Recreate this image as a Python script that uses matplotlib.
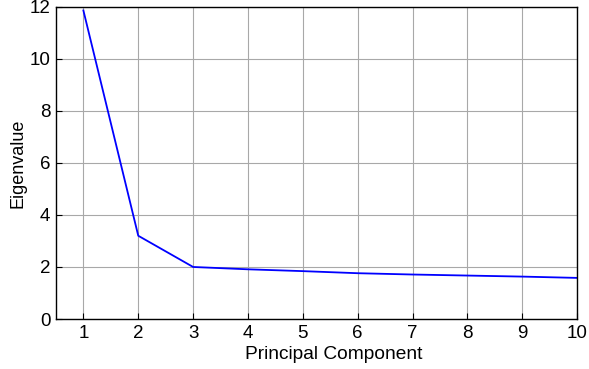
import matplotlib
matplotlib.use("Agg")
import matplotlib.pyplot as plt

plt.rcParams['font.family'] = ['Liberation Sans', 'DejaVu Sans']

# scree plot values
components = [1, 2, 3, 4, 5, 6, 7, 8, 9, 10]
eigenvalues = [11.86, 3.2, 2.0, 1.91, 1.84, 1.76, 1.71, 1.67, 1.63, 1.58]

fig = plt.figure(figsize=(5.89, 3.69), dpi=100)
ax = fig.add_axes([0.095, 0.1355, 0.885, 0.846])

ax.plot(components, eigenvalues, color='#0000ff', linewidth=1.3)

ax.set_xlim(0.5, 10)
ax.set_ylim(0, 12)
ax.set_xticks(components)
ax.set_yticks([0, 2, 4, 6, 8, 10, 12])
ax.grid(True, color='#a8a8a8', linewidth=0.8)
ax.set_axisbelow(True)
ax.tick_params(direction='in', labelsize=13.5, length=4, color='black', pad=4)
for s in ax.spines.values():
    s.set_linewidth(1.0)

ax.set_xlabel("Principal Component", fontsize=13.8, labelpad=1)
ax.xaxis.set_label_coords(0.533, -0.085)
ax.set_ylabel("Eigenvalue", fontsize=13, labelpad=2)

fig.savefig("out.png", dpi=100)
